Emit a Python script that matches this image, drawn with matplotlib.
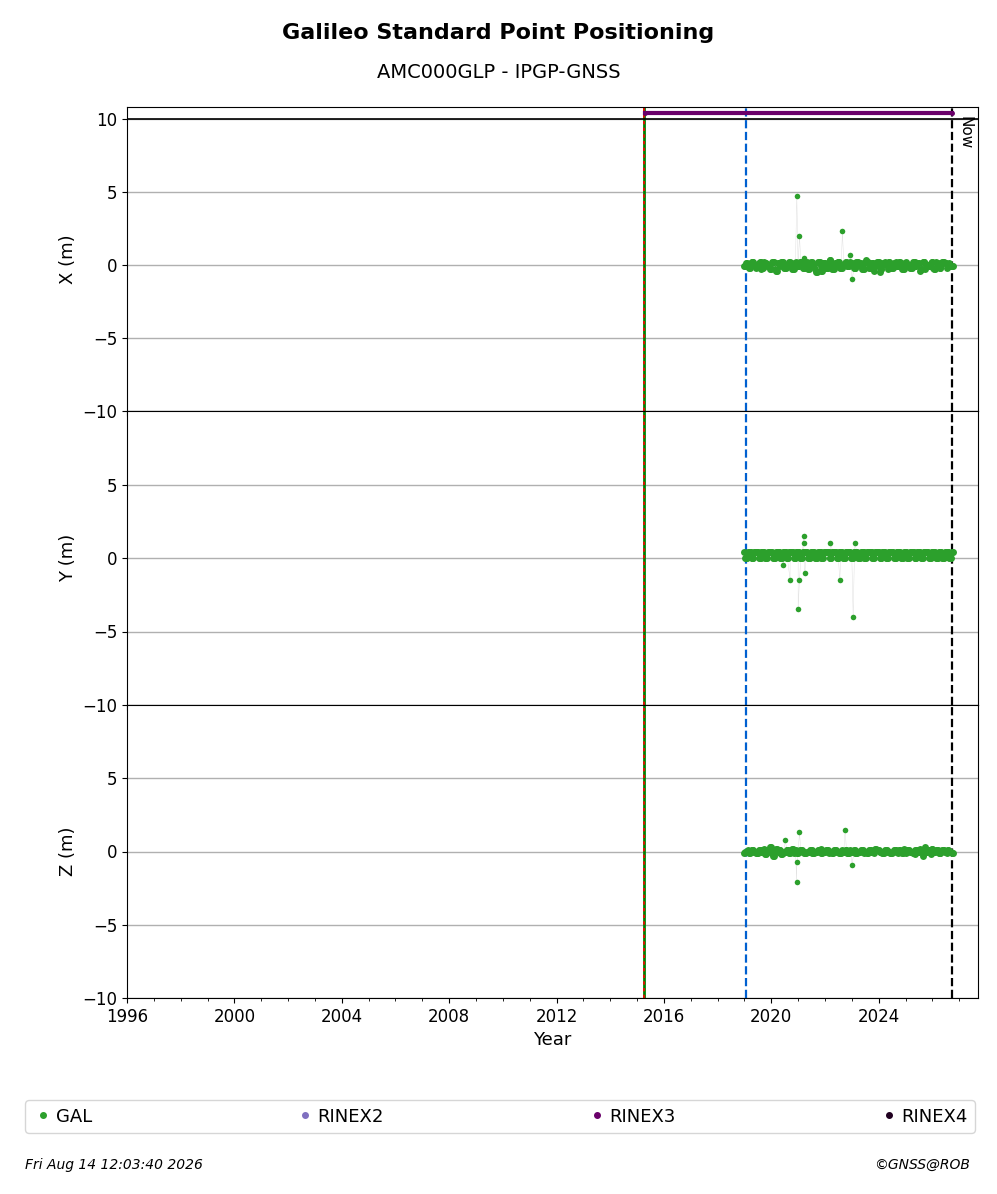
import numpy as np
import matplotlib
matplotlib.use("Agg")
import matplotlib.pyplot as plt

# ---- data ----
t = np.round(np.arange(2019.0, 2026.75, 0.1), 2)
x_base = [-0.1,0.1,-0.2,0.2,0.0,-0.1,0.2,-0.2,0.1,0.0,-0.3,0.2,-0.4,0.1,0.2,-0.2,0.0,0.2,-0.3,0.1,
          -0.1,0.2,-0.2,0.1,-0.3,0.2,0.0,-0.5,0.2,-0.4,0.1,-0.2,0.3,-0.3,0.1,0.2,-0.2,0.0,0.2,-0.1,
          0.1,-0.2,0.2,0.0,-0.3,0.1,0.2,-0.2,0.1,-0.1,0.2,-0.3,0.1,0.0,0.2,-0.2,0.1,-0.1,0.2,-0.3,
          0.1,0.0,-0.2,0.2,-0.1,0.1,-0.3,0.2,0.0,-0.1,0.2,-0.3,0.1,-0.2,0.2,0.1,0.0,-0.1]
y_base = [0.4,0.0,0.4,0.0,0.4,0.4,0.0,0.4,0.0,0.4,0.4,0.0,0.4,0.4,0.0,0.4,0.0,0.4,0.4,0.0,
          0.4,0.0,0.4,0.4,0.0,0.4,0.4,0.0,0.4,0.0,0.4,0.4,0.0,0.4,0.4,0.0,0.4,0.0,0.4,0.4,
          0.0,0.4,0.4,0.0,0.4,0.0,0.4,0.4,0.0,0.4,0.4,0.0,0.4,0.0,0.4,0.4,0.0,0.4,0.4,0.0,
          0.4,0.0,0.4,0.4,0.0,0.4,0.0,0.4,0.4,0.0,0.4,0.4,0.0,0.4,0.0,0.4,0.4,0.0]
z_base = [-0.1,0.0,-0.1,0.1,0.0,-0.1,0.1,0.0,-0.2,0.1,0.3,-0.3,0.2,0.1,-0.2,0.0,0.1,-0.1,0.2,0.0,
          -0.1,0.1,0.0,-0.1,0.0,0.1,-0.1,0.0,0.1,-0.1,0.0,0.1,0.0,-0.1,0.1,0.0,-0.1,0.0,0.1,-0.1,
          0.0,0.1,-0.1,0.0,0.1,0.0,-0.1,0.1,0.0,0.2,0.1,0.0,-0.1,0.1,0.0,-0.1,0.1,0.0,0.1,-0.1,
          0.0,0.1,0.0,-0.1,0.1,0.0,0.1,-0.1,0.0,0.1,0.2,0.0,0.1,-0.1,0.1,0.0,0.1,0.0]
x_out_t = [2020.95, 2021.05, 2021.2, 2022.65, 2023.0, 2022.95]
x_out_v = [4.7, 2.0, 0.5, 2.3, -1.0, 0.7]
y_out_t = [2021.0, 2023.05, 2021.2, 2021.05, 2022.55, 2020.45, 2020.7, 2021.25, 2022.2, 2023.1, 2021.2]
y_out_v = [-3.5, -4.0, 1.5, -1.5, -1.5, -0.5, -1.5, -1.0, 1.0, 1.0, 1.0]
z_out_t = [2020.95, 2021.05, 2022.75, 2023.0, 2020.5, 2020.95]
z_out_v = [-2.1, 1.3, 1.5, -0.9, 0.8, -0.7]
rinex3_start, rinex3_end, rinex3_level = 2015.3, 2026.72, 10.4
line_start, line_blue, line_now = 2015.25, 2019.05, 2026.72
labels = ["X (m)", "Y (m)", "Z (m)"]

green = "#2ca02c"
fig = plt.figure(figsize=(9.97, 11.94), dpi=100)
H = 11.94 * 100
def frac(y): return 1 - y / H
L, R = 127 / 997, 978 / 997
tops = [107, 411, 705]; bots = [411, 705, 998]
axes = []
series = [(x_base, x_out_t, x_out_v), (y_base, y_out_t, y_out_v), (z_base, z_out_t, z_out_v)]
for i in range(3):
    ax = fig.add_axes([L, frac(bots[i]), R - L, frac(tops[i]) - frac(bots[i])])
    axes.append(ax)
    base, ot, ov = series[i]
    tt = np.concatenate([t, ot]); vv = np.concatenate([base, ov])
    order = np.argsort(tt)
    ax.plot(tt[order], vv[order], color="#dddddd", lw=0.3, zorder=1)
    for off, b in [(0, base), (0.035, base[::-1]), (0.07, base[1:] + base[:1])]:
        ax.plot(t + off, b, "o", color=green, ms=5, zorder=3, markeredgewidth=0)
    ax.plot(ot, ov, "o", color=green, ms=4, zorder=3, markeredgewidth=0)
    ax.set_xlim(1996, 2027.7)
    ax.set_ylim(-10, 10.8 if i == 0 else 10)
    ax.set_yticks([-10, -5, 0, 5, 10] if i == 0 else [-10, -5, 0, 5])
    ax.grid(axis="y", color="#b0b0b0", lw=1)
    ax.set_ylabel(labels[i], fontsize=13)
    ax.tick_params(labelsize=12)
    ax.axvline(line_start, color="green", lw=2)
    ax.axvline(line_start, color="red", lw=1.2, ls=(0, (2, 2)))
    ax.axvline(line_blue, color="#0060d0", lw=1.6, ls="--")
    ax.axvline(line_now, color="black", lw=1.6, ls="--")
    ax.set_xticks(np.arange(1996, 2028, 4))
    ax.set_xticks(np.arange(1996, 2028, 1), minor=True)
    if i < 2:
        ax.tick_params(axis="x", which="both", labelbottom=False)
axes[0].axhline(10, color="black", lw=1.2)
axes[0].plot([rinex3_start, rinex3_end], [rinex3_level, rinex3_level], "o-", color="#6a006a", ms=2.5, lw=3)
axes[0].text(line_now + 0.2, 10.2, "Now", rotation=-90, va="top", ha="left", fontsize=11)
axes[2].set_xlabel("Year", fontsize=13)

fig.text(0.5, 1 - 33 / H, "Galileo Standard Point Positioning", ha="center", va="center",
         fontsize=16, fontweight="bold")
fig.text(0.5, 1 - 72 / H, "AMC000GLP - IPGP-GNSS", ha="center", va="center", fontsize=14)

from matplotlib.lines import Line2D
hs = [Line2D([], [], marker="o", ls="", color=c, ms=4) for c in [green, "#8070c0", "#6a006a", "#200020"]]
leg = fig.legend(hs, ["GAL", "RINEX2", "RINEX3", "RINEX4"], loc="center",
                 bbox_to_anchor=(25 / 997, frac(1138), 950 / 997, frac(1095) - frac(1138)),
                 mode="expand", ncol=4, fontsize=13, handletextpad=0.1, handlelength=1.2,
                 borderaxespad=0)
fig.text(25 / 997, frac(1165), "Fri Aug 14 12:03:40 2026", fontsize=10, style="italic", va="center")
fig.text(970 / 997, frac(1165), "©GNSS@ROB", fontsize=10, style="italic", va="center", ha="right")
fig.savefig("out.png", dpi=100)
